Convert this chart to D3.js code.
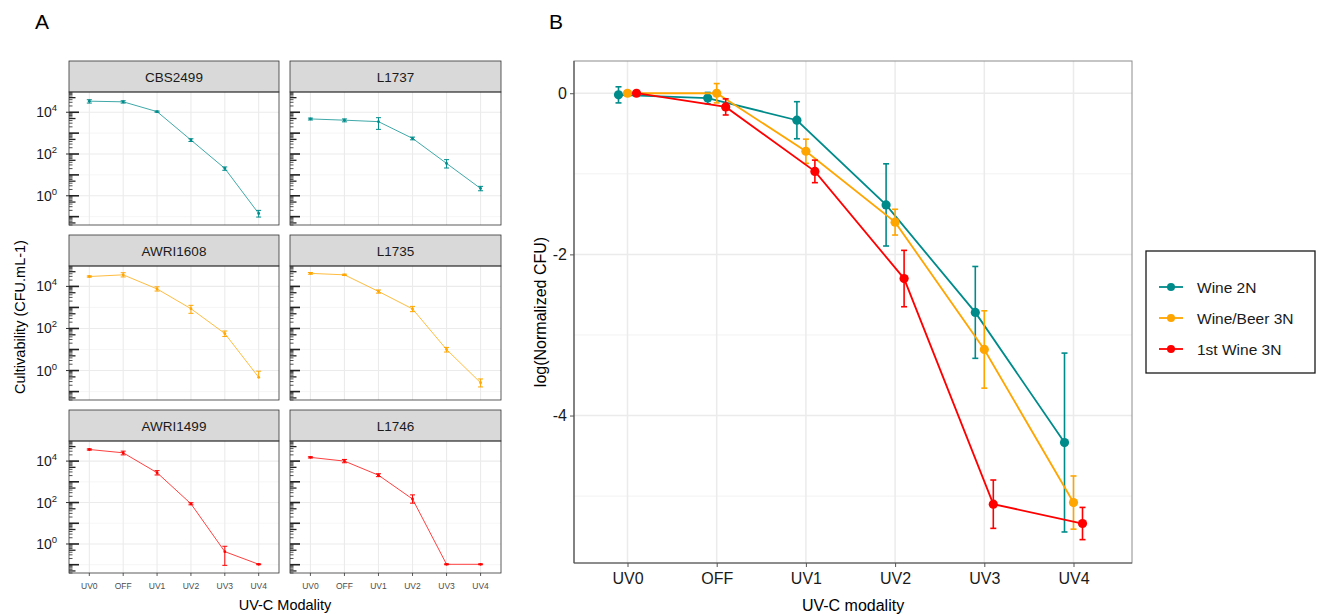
<!DOCTYPE html>
<html>
<head>
<meta charset="utf-8">
<script src="https://cdn.jsdelivr.net/npm/d3@7"></script>
<style>
  body { margin: 0; background: #fff; }
  svg { display: block; font-family: Arial, "Liberation Sans", sans-serif; }
</style>
</head>
<body>
<svg id="chart" width="1324" height="616"></svg>
<script>
// ---------------- DATA ----------------
const modalities = ["UV0", "OFF", "UV1", "UV2", "UV3", "UV4"];

// Panel A: log10 cultivability (CFU.mL-1) per strain, with log10 error bounds (low, high)
const strainsA = ["CBS2499", "L1737", "AWRI1608", "L1735", "AWRI1499", "L1746"];
const groupA = ["Wine 2N", "Wine 2N", "Wine/Beer 3N", "Wine/Beer 3N", "1st Wine 3N", "1st Wine 3N"];
const log10CBS2499 = [4.53, 4.50, 4.03, 2.67, 1.31, -0.85];
const errLoCBS2499 = [4.44, 4.44, 4.00, 2.60, 1.22, -1.02];
const errHiCBS2499 = [4.60, 4.55, 4.06, 2.73, 1.38, -0.70];
const log10L1737 = [3.68, 3.62, 3.55, 2.75, 1.55, 0.35];
const errLoL1737 = [3.63, 3.54, 3.18, 2.68, 1.33, 0.24];
const errHiL1737 = [3.72, 3.68, 3.74, 2.81, 1.73, 0.45];
const log10AWRI1608 = [4.47, 4.55, 3.88, 2.94, 1.76, -0.32];
const errLoAWRI1608 = [4.44, 4.45, 3.78, 2.72, 1.62, -0.32];
const errHiAWRI1608 = [4.50, 4.65, 3.98, 3.10, 1.88, -0.03];
const log10L1735 = [4.62, 4.55, 3.76, 2.93, 1.00, -0.58];
const errLoL1735 = [4.58, 4.52, 3.68, 2.80, 0.88, -0.78];
const errHiL1735 = [4.66, 4.58, 3.83, 3.05, 1.10, -0.40];
const log10AWRI1499 = [4.56, 4.40, 3.44, 1.94, -0.37, -0.98];
const errLoAWRI1499 = [4.53, 4.30, 3.33, 1.89, -1.03, -1.00];
const errHiAWRI1499 = [4.59, 4.48, 3.54, 1.99, -0.11, -0.96];
const log10L1746 = [4.18, 4.00, 3.32, 2.17, -0.98, -0.98];
const errLoL1746 = [4.15, 3.92, 3.25, 1.97, -1.00, -1.00];
const errHiL1746 = [4.21, 4.08, 3.39, 2.37, -0.96, -0.96];
const yTickExpA = [0, 2, 4];

// Panel B: log(Normalized CFU) mean and error per group
const groupsB = ["Wine 2N", "Wine/Beer 3N", "1st Wine 3N"];
const meanWine2N = [-0.02, -0.06, -0.335, -1.386, -2.72, -4.335];
const errWine2N = [0.10, 0.07, 0.23, 0.51, 0.57, 1.11];
const meanWineBeer3N = [0.00, 0.00, -0.72, -1.60, -3.18, -5.08];
const errWineBeer3N = [0.03, 0.12, 0.15, 0.16, 0.48, 0.33];
const mean1stWine3N = [0.00, -0.17, -0.97, -2.30, -5.10, -5.34];
const err1stWine3N = [0.02, 0.10, 0.14, 0.35, 0.30, 0.20];
const yTicksB = [0, -2, -4];

const colors = { "Wine 2N": "#008B8B", "Wine/Beer 3N": "#FFA500", "1st Wine 3N": "#FF0000" };

// ---------------- BUILD ----------------
const svg = d3.select("#chart");

const seriesA = [
  { name: "CBS2499", v: log10CBS2499, lo: errLoCBS2499, hi: errHiCBS2499 },
  { name: "L1737", v: log10L1737, lo: errLoL1737, hi: errHiL1737 },
  { name: "AWRI1608", v: log10AWRI1608, lo: errLoAWRI1608, hi: errHiAWRI1608 },
  { name: "L1735", v: log10L1735, lo: errLoL1735, hi: errHiL1735 },
  { name: "AWRI1499", v: log10AWRI1499, lo: errLoAWRI1499, hi: errHiAWRI1499 },
  { name: "L1746", v: log10L1746, lo: errLoL1746, hi: errHiL1746 }
];

// Panel A layout
const colX = [[69, 279], [290, 501]];
const rowY = [{ s: 61, p: 92, b: 225 }, { s: 235, p: 266, b: 400 }, { s: 410, p: 441, b: 573 }];

svg.append("text").attr("x", 35).attr("y", 29).attr("font-size", 21).attr("fill", "#000").text("A");
svg.append("text").attr("x", 549).attr("y", 29).attr("font-size", 21).attr("fill", "#000").text("B");

seriesA.forEach((s, i) => {
  const c = i % 2, r = Math.floor(i / 2);
  const [x0, x1] = colX[c];
  const R = rowY[r];
  const col = colors[groupA[i]];
  const g = svg.append("g");
  const x = d3.scalePoint().domain(modalities).range([x0, x1]).padding(0.6);
  const y = d3.scaleLog().domain([Math.pow(10, -1.40), Math.pow(10, 4.97)]).range([R.b, R.p]);

  // grid
  const minor = [-1, 1, 3], major = [0, 2, 4];
  g.selectAll(".mn").data(minor).join("line")
    .attr("x1", x0).attr("x2", x1)
    .attr("y1", d => y(Math.pow(10, d))).attr("y2", d => y(Math.pow(10, d)))
    .attr("stroke", "#f0f0f0").attr("stroke-width", 0.6);
  g.selectAll(".mj").data(major).join("line")
    .attr("x1", x0).attr("x2", x1)
    .attr("y1", d => y(Math.pow(10, d))).attr("y2", d => y(Math.pow(10, d)))
    .attr("stroke", "#ebebeb").attr("stroke-width", 1.1);
  g.selectAll(".vg").data(modalities).join("line")
    .attr("x1", d => x(d)).attr("x2", d => x(d)).attr("y1", R.p).attr("y2", R.b)
    .attr("stroke", "#ebebeb").attr("stroke-width", 1.1);

  // log ticks (inside panel)
  const ticks = [];
  for (let e = -2; e <= 4; e++) {
    for (let m = 1; m <= 9; m++) {
      const val = m * Math.pow(10, e);
      const yy = y(val);
      if (yy < R.p || yy > R.b) continue;
      ticks.push({ yy, len: m === 1 ? 10 : (m === 5 ? 6.5 : 3.5), w: m === 1 ? 1.6 : (m === 5 ? 1.3 : 0.8) });
    }
  }
  g.selectAll(".lt").data(ticks).join("line")
    .attr("x1", x0).attr("x2", d => x0 + d.len).attr("y1", d => d.yy).attr("y2", d => d.yy)
    .attr("stroke", "#222").attr("stroke-width", d => d.w);

  // strip
  g.append("rect").attr("x", x0).attr("y", R.s).attr("width", x1 - x0).attr("height", R.p - R.s)
    .attr("fill", "#d9d9d9").attr("stroke", "#333").attr("stroke-width", 0.8);
  g.append("text").attr("x", (x0 + x1) / 2).attr("y", (R.s + R.p) / 2 + 5)
    .attr("text-anchor", "middle").attr("font-size", 13.5).attr("fill", "#1a1a1a").text(s.name);

  // panel border
  g.append("rect").attr("x", x0).attr("y", R.p).attr("width", x1 - x0).attr("height", R.b - R.p)
    .attr("fill", "none").attr("stroke", "#333").attr("stroke-width", 0.8);

  // y axis labels (left column only)
  if (c === 0) {
    yTickExpA.forEach(e => {
      const yy = y(Math.pow(10, e));
      g.append("line").attr("x1", x0 - 3).attr("x2", x0).attr("y1", yy).attr("y2", yy)
        .attr("stroke", "#333").attr("stroke-width", 1);
      const t = g.append("text").attr("x", x0 - 12).attr("y", yy + 5)
        .attr("text-anchor", "end").attr("font-size", 14).attr("fill", "#1a1a1a");
      t.append("tspan").text("10");
      t.append("tspan").attr("font-size", 9.5).attr("dy", -6).text(e);
    });
  }
  // x ticks (bottom row)
  if (r === 2) {
    modalities.forEach(m => {
      g.append("line").attr("x1", x(m)).attr("x2", x(m)).attr("y1", R.b).attr("y2", R.b + 3)
        .attr("stroke", "#333").attr("stroke-width", 0.8);
      g.append("text").attr("x", x(m)).attr("y", R.b + 16).attr("text-anchor", "middle")
        .attr("font-size", 8.5).attr("fill", "#4d4d4d").text(m);
    });
  }

  // data
  const pts = modalities.map((m, k) => ({ m, v: s.v[k], lo: s.lo[k], hi: s.hi[k] }));
  const line = d3.line().x(d => x(d.m)).y(d => y(Math.pow(10, d.v)));
  g.append("path").datum(pts).attr("d", line).attr("fill", "none")
    .attr("stroke", col).attr("stroke-width", 1).attr("stroke-opacity", 0.75);
  const eb = g.selectAll(".eb").data(pts).join("g");
  eb.append("line").attr("x1", d => x(d.m)).attr("x2", d => x(d.m))
    .attr("y1", d => y(Math.pow(10, d.lo))).attr("y2", d => y(Math.pow(10, d.hi)))
    .attr("stroke", col).attr("stroke-width", 1);
  eb.append("line").attr("x1", d => x(d.m) - 2.5).attr("x2", d => x(d.m) + 2.5)
    .attr("y1", d => y(Math.pow(10, d.hi))).attr("y2", d => y(Math.pow(10, d.hi)))
    .attr("stroke", col).attr("stroke-width", 1);
  eb.filter(d => d.lo < d.v).append("line").attr("x1", d => x(d.m) - 2.5).attr("x2", d => x(d.m) + 2.5)
    .attr("y1", d => y(Math.pow(10, d.lo))).attr("y2", d => y(Math.pow(10, d.lo)))
    .attr("stroke", col).attr("stroke-width", 1);
  eb.append("circle").attr("cx", d => x(d.m)).attr("cy", d => y(Math.pow(10, d.v))).attr("r", 1.4)
    .attr("fill", col);
});

// Panel A axis titles
svg.append("text").attr("x", 285).attr("y", 610).attr("text-anchor", "middle")
  .attr("font-size", 14.5).attr("fill", "#000").text("UV-C Modality");
svg.append("text").attr("transform", "translate(25,317) rotate(-90)").attr("text-anchor", "middle")
  .attr("font-size", 14.5).attr("fill", "#000").text("Cultivability (CFU.mL-1)");

// ---------------- Panel B ----------------
const B = { l: 574, r: 1132, t: 61, b: 563 };
const xB = d3.scalePoint().domain(modalities).range([627.5, 1073.5]).padding(0);
const yB = d3.scaleLinear().domain([-5.83, 0.40]).range([B.b, B.t]);
const dodge = { "Wine 2N": -9, "Wine/Beer 3N": 0, "1st Wine 3N": 9 };
const gB = svg.append("g");

[-5, -3, -1].forEach(v => gB.append("line").attr("x1", B.l).attr("x2", B.r)
  .attr("y1", yB(v)).attr("y2", yB(v)).attr("stroke", "#f2f2f2").attr("stroke-width", 1));
yTicksB.forEach(v => gB.append("line").attr("x1", B.l).attr("x2", B.r)
  .attr("y1", yB(v)).attr("y2", yB(v)).attr("stroke", "#ebebeb").attr("stroke-width", 1.5));
modalities.forEach(m => gB.append("line").attr("x1", xB(m)).attr("x2", xB(m))
  .attr("y1", B.t).attr("y2", B.b).attr("stroke", "#ebebeb").attr("stroke-width", 1.5));

gB.append("rect").attr("x", B.l).attr("y", B.t).attr("width", B.r - B.l).attr("height", B.b - B.t)
  .attr("fill", "none").attr("stroke", "#8c8c8c").attr("stroke-width", 1);
gB.append("line").attr("x1", B.l).attr("x2", B.l).attr("y1", B.t).attr("y2", B.b).attr("stroke", "#555").attr("stroke-width", 1.2);
gB.append("line").attr("x1", B.l).attr("x2", B.r).attr("y1", B.b).attr("y2", B.b).attr("stroke", "#555").attr("stroke-width", 1.2);

const yAxisB = gB.append("g").attr("transform", `translate(${B.l},0)`)
  .call(d3.axisLeft(yB).tickValues(yTicksB).tickSize(4).tickFormat(d3.format("d")));
yAxisB.select(".domain").remove();
yAxisB.selectAll("line").attr("stroke", "#555");
yAxisB.selectAll("text").attr("font-size", 16).attr("fill", "#1a1a1a").attr("font-family", "Arial, 'Liberation Sans', sans-serif")
  .text(d => d === 0 ? "0" : "-" + Math.abs(d));

const xAxisB = gB.append("g").attr("transform", `translate(0,${B.b})`)
  .call(d3.axisBottom(xB).tickSize(4).tickPadding(6));
xAxisB.select(".domain").remove();
xAxisB.selectAll("line").attr("stroke", "#555");
xAxisB.selectAll("text").attr("font-size", 16).attr("fill", "#1a1a1a").attr("font-family", "Arial, 'Liberation Sans', sans-serif");

svg.append("text").attr("x", (B.l + B.r) / 2).attr("y", 611).attr("text-anchor", "middle")
  .attr("font-size", 16).attr("fill", "#000").text("UV-C modality");
svg.append("text").attr("transform", `translate(546,${(B.t + B.b) / 2}) rotate(-90)`).attr("text-anchor", "middle")
  .attr("font-size", 16).attr("fill", "#000").text("log(Normalized CFU)");

const seriesB = [
  { name: "Wine 2N", m: meanWine2N, e: errWine2N },
  { name: "Wine/Beer 3N", m: meanWineBeer3N, e: errWineBeer3N },
  { name: "1st Wine 3N", m: mean1stWine3N, e: err1stWine3N }
];
seriesB.forEach(s => {
  const col = colors[s.name];
  const pts = modalities.map((md, k) => ({ md, v: s.m[k], e: s.e[k] }));
  const px = d => xB(d.md) + dodge[s.name];
  gB.append("path").datum(pts).attr("d", d3.line().x(px).y(d => yB(d.v)))
    .attr("fill", "none").attr("stroke", col).attr("stroke-width", 1.8);
  const eb = gB.selectAll(null).data(pts).join("g");
  eb.append("line").attr("x1", px).attr("x2", px).attr("y1", d => yB(d.v - d.e)).attr("y2", d => yB(d.v + d.e))
    .attr("stroke", col).attr("stroke-width", 1.6);
  [1, -1].forEach(sg => eb.append("line").attr("x1", d => px(d) - 3).attr("x2", d => px(d) + 3)
    .attr("y1", d => yB(d.v + sg * d.e)).attr("y2", d => yB(d.v + sg * d.e))
    .attr("stroke", col).attr("stroke-width", 1.6));
  eb.append("circle").attr("cx", px).attr("cy", d => yB(d.v)).attr("r", 4.6).attr("fill", col);
});

// Legend
const lg = svg.append("g");
lg.append("rect").attr("x", 1146).attr("y", 251).attr("width", 169).attr("height", 122)
  .attr("fill", "#fff").attr("stroke", "#1a1a1a").attr("stroke-width", 1.3);
groupsB.forEach((n, i) => {
  const yy = 287 + i * 31;
  lg.append("line").attr("x1", 1159).attr("x2", 1183).attr("y1", yy).attr("y2", yy)
    .attr("stroke", colors[n]).attr("stroke-width", 1.8);
  lg.append("circle").attr("cx", 1171).attr("cy", yy).attr("r", 4).attr("fill", colors[n]);
  lg.append("text").attr("x", 1197).attr("y", yy + 5.5).attr("font-size", 15.5).attr("fill", "#1a1a1a").text(n);
});
</script>
</body>
</html>
